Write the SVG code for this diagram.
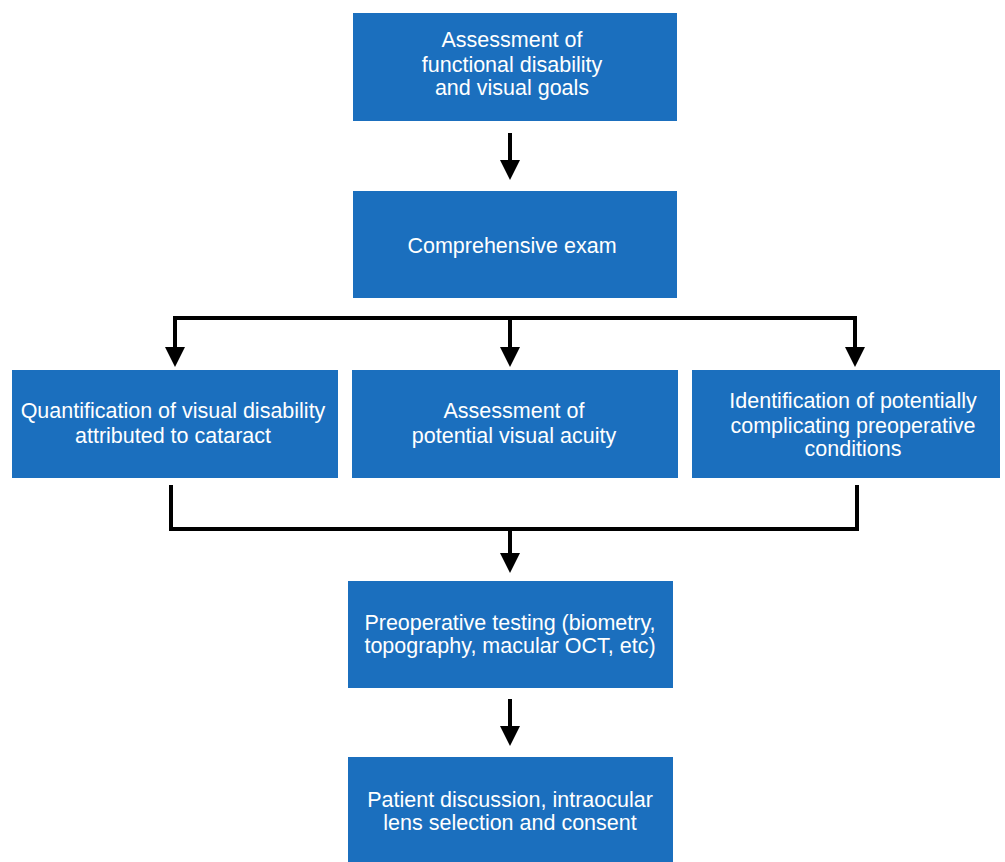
<svg xmlns="http://www.w3.org/2000/svg" width="1005" height="862" viewBox="0 0 1005 862">
<style>
.box{fill:#1b6fbe}
.lbl{fill:#ffffff;font-family:"Liberation Sans",Arial,sans-serif;font-size:21.5px;text-anchor:middle}
.con{stroke:#000;stroke-width:4;fill:none}
</style>
<defs>
<marker id="ah" markerUnits="userSpaceOnUse" viewBox="0 0 20 20" refX="4" refY="10" markerWidth="20" markerHeight="20" orient="auto">
<path d="M0,0 L20,10 L0,20 Z" fill="#000"/>
</marker>
</defs>
<rect width="1005" height="862" fill="#ffffff"/>
<g id="n1"><rect class="box" x="353" y="13" width="324" height="108"/>
<text class="lbl" x="512" y="47">Assessment of</text>
<text class="lbl" x="512" y="72">functional disability</text>
<text class="lbl" x="512" y="95">and visual goals</text></g>
<g id="n2"><rect class="box" x="353" y="191" width="324" height="107"/>
<text class="lbl" x="512" y="253">Comprehensive exam</text></g>
<g id="n3"><rect class="box" x="12" y="370" width="326" height="108"/>
<text class="lbl" x="173" y="418">Quantification of visual disability</text>
<text class="lbl" x="173" y="443">attributed to cataract</text></g>
<g id="n4"><rect class="box" x="352" y="370" width="326" height="108"/>
<text class="lbl" x="514" y="418">Assessment of</text>
<text class="lbl" x="514" y="443">potential visual acuity</text></g>
<g id="n5"><rect class="box" x="692" y="370" width="308" height="108"/>
<text class="lbl" x="853" y="408">Identification of potentially</text>
<text class="lbl" x="853" y="433">complicating preoperative</text>
<text class="lbl" x="853" y="456">conditions</text></g>
<g id="n6"><rect class="box" x="348" y="581" width="325" height="107"/>
<text class="lbl" x="510" y="630">Preoperative testing (biometry,</text>
<text class="lbl" x="510" y="653">topography, macular OCT, etc)</text></g>
<g id="n7"><rect class="box" x="348" y="757" width="325" height="105"/>
<text class="lbl" x="510" y="807">Patient discussion, intraocular</text>
<text class="lbl" x="510" y="830">lens selection and consent</text></g>
<g id="connectors">
<path class="con" d="M510,133 V164" marker-end="url(#ah)"/>
<path class="con" d="M175,318 H855"/>
<path class="con" d="M175,316 V351" marker-end="url(#ah)"/>
<path class="con" d="M855,316 V351" marker-end="url(#ah)"/>
<path class="con" d="M510,318 V351" marker-end="url(#ah)"/>
<path class="con" d="M171,485 V529 H857 V485"/>
<path class="con" d="M510,529 V557" marker-end="url(#ah)"/>
<path class="con" d="M510,699 V730" marker-end="url(#ah)"/>
</g>
</svg>
